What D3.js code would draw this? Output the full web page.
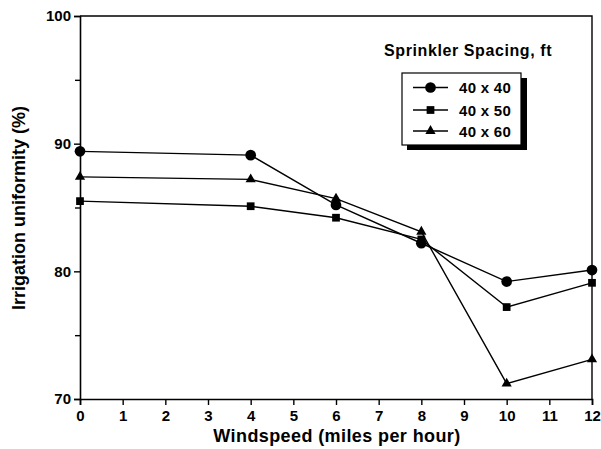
<!DOCTYPE html>
<head>
<meta charset="utf-8">
<title></title>
<style>
body { margin: 0; background: #fff; }
text { font-family: "Liberation Sans", Arial, sans-serif; font-weight: bold; fill: #000; }
path.line { fill: none; stroke: #000; stroke-width: 1.4px; }
</style>
</head>
<body>
<script src="https://cdn.jsdelivr.net/npm/d3@7"></script>
<script>

// Data
var windspeed = [0, 4, 6, 8, 10, 12];
var seriesNames = ["40 x 40", "40 x 50", "40 x 60"];
var s40x40 = [89.4, 89.1, 85.2, 82.2, 79.2, 80.1];
var s40x50 = [85.5, 85.1, 84.2, 82.5, 77.2, 79.1];
var s40x60 = [87.4, 87.2, 85.7, 83.1, 71.2, 73.1];
var xTicks = [0, 1, 2, 3, 4, 5, 6, 7, 8, 9, 10, 11, 12];
var yTicks = [70, 80, 90, 100];
var yMinor = [75, 85, 95];

var width = 601, height = 449;
var plotL = 80, plotR = 592, plotT = 16, plotB = 399;

var svg = d3.select("body").append("svg")
    .attr("width", width)
    .attr("height", height);

var x = d3.scaleLinear().domain([0, 12]).range([plotL, plotR]);
var y = d3.scaleLinear().domain([70, 100]).range([plotB, plotT]);

// axes
var xAxis = svg.append("g")
    .attr("transform", "translate(0," + plotB + ")")
    .call(d3.axisBottom(x).tickValues(xTicks).tickSize(6).tickPadding(5).tickFormat(d3.format("d")));
var yAxis = svg.append("g")
    .attr("transform", "translate(" + plotL + ",0)")
    .call(d3.axisLeft(y).tickValues(yTicks).tickSize(6).tickPadding(3).tickFormat(d3.format("d")));
svg.append("g")
    .attr("transform", "translate(" + plotL + ",0)")
    .call(d3.axisLeft(y).tickValues(yMinor).tickSize(5).tickFormat(""))
    .call(function(g) {
      g.select(".domain").remove();
      g.selectAll(".tick line").attr("stroke", "#000").attr("stroke-width", 1.4);
    });

[xAxis, yAxis].forEach(function(a) {
  a.select(".domain").attr("stroke", "#000").attr("stroke-width", 1.6);
  a.selectAll(".tick line").attr("stroke", "#000").attr("stroke-width", 1.4);
  a.selectAll(".tick text")
    .style("font-family", "'Liberation Sans', Arial, sans-serif")
    .style("font-weight", "bold")
    .style("font-size", "15px")
    .attr("fill", "#000");
});

// frame top and right
svg.append("path")
    .attr("d", "M" + plotL + "," + plotT + "H" + plotR + "V" + plotB)
    .attr("fill", "none")
    .attr("stroke", "#000")
    .attr("stroke-width", 1.4);

// axis titles
svg.append("text")
    .attr("x", 337)
    .attr("y", 442)
    .attr("text-anchor", "middle")
    .style("font-size", "18px")
    .style("letter-spacing", "0.4px")
    .text("Windspeed (miles per hour)");

svg.append("text")
    .attr("transform", "translate(25,208) rotate(-90)")
    .attr("text-anchor", "middle")
    .style("font-size", "18px")
    .text("Irrigation uniformity (%)");

// series
var series = [s40x40, s40x50, s40x60];
var shapes = [d3.symbolCircle, d3.symbolSquare, d3.symbolTriangle];
var sizes = [90, 60, 45];

var line = d3.line()
    .x(function(d, i) { return x(windspeed[i]); })
    .y(function(d) { return y(d); });

series.forEach(function(vals, k) {
  svg.append("path")
      .attr("class", "line")
      .attr("d", line(vals));
  svg.append("g").selectAll("path")
      .data(vals)
      .enter().append("path")
      .attr("transform", function(d, i) { return "translate(" + x(windspeed[i]) + "," + y(d) + ")"; })
      .attr("d", d3.symbol().type(shapes[k]).size(sizes[k]))
      .attr("fill", "#000");
});

// legend
svg.append("text")
    .attr("x", 384)
    .attr("y", 56)
    .style("font-size", "16px")
    .style("letter-spacing", "0.6px")
    .text("Sprinkler Spacing, ft");

var lg = svg.append("g");
lg.append("rect")
    .attr("x", 407).attr("y", 78)
    .attr("width", 120).attr("height", 72)
    .attr("fill", "#000");
lg.append("rect")
    .attr("x", 402).attr("y", 73)
    .attr("width", 119).attr("height", 72)
    .attr("fill", "#fff")
    .attr("stroke", "#000")
    .attr("stroke-width", 1.2);

var legY = [87.5, 110, 131];
seriesNames.forEach(function(name, k) {
  lg.append("line")
      .attr("x1", 413).attr("x2", 448)
      .attr("y1", legY[k]).attr("y2", legY[k])
      .attr("stroke", "#000").attr("stroke-width", 1.4);
  lg.append("path")
      .attr("transform", "translate(430.5," + legY[k] + ")")
      .attr("d", d3.symbol().type(shapes[k]).size(sizes[k]))
      .attr("fill", "#000");
  lg.append("text")
      .attr("x", 459)
      .attr("y", legY[k] + 5.5)
      .style("font-size", "15px")
      .style("letter-spacing", "0.3px")
      .text(name);
});

</script>
</body>
</html>
